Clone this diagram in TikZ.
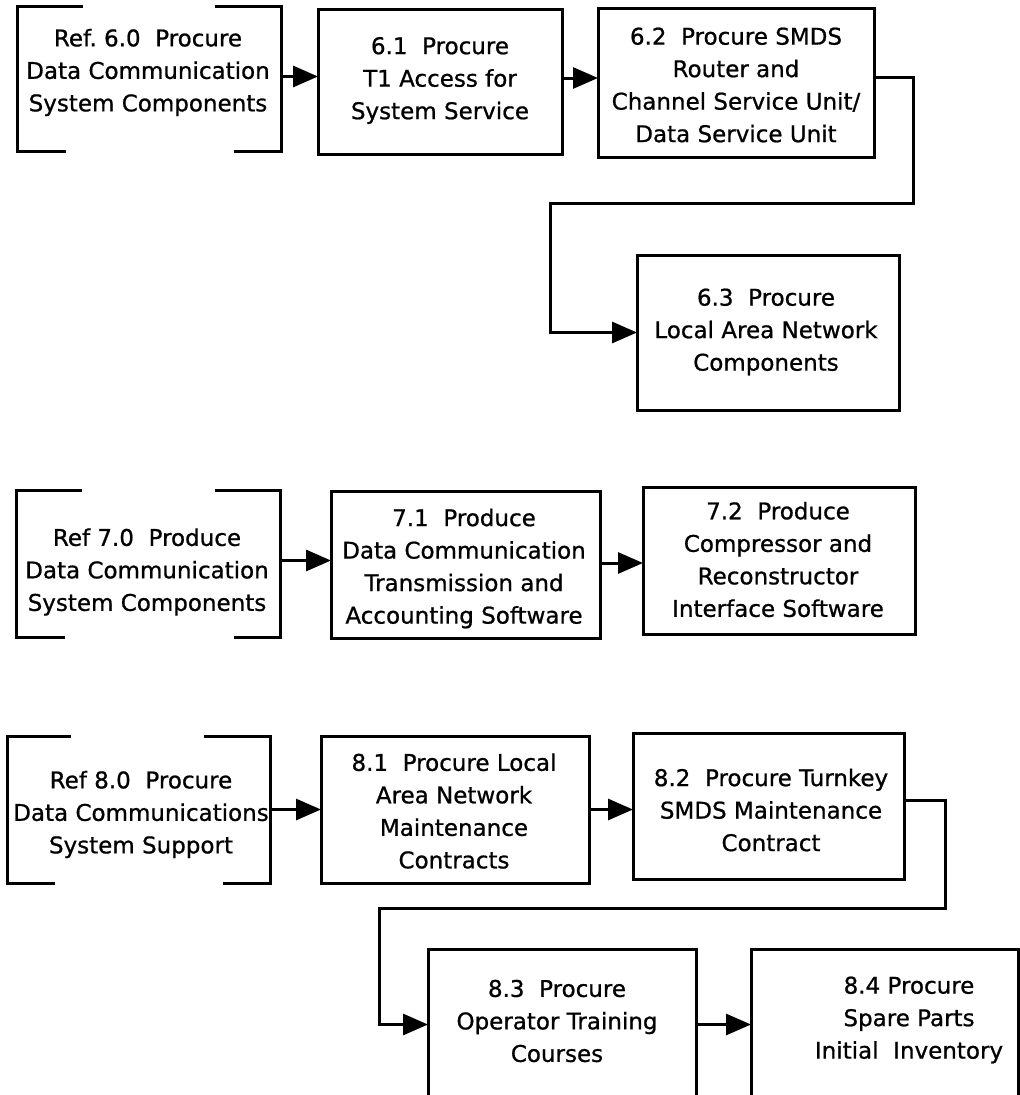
\documentclass[tikz,border=0pt]{standalone}
\usepackage{fontspec}
\setmainfont{DejaVu Sans}[FakeBold=0.8]
\usetikzlibrary{arrows.meta}
\begin{document}
\begin{tikzpicture}[x=1pt,y=-1pt,
  boxline/.style={draw=black, line width=3pt, inner sep=0pt, outer sep=0pt},
  hidden/.style={inner sep=0pt, outer sep=0pt},
  txt/.style={align=center, inner sep=0pt, font=\fontsize{23}{32.5}\selectfont},
  arr/.style={line width=3pt, -{Triangle[length=25pt,width=21pt]}},
  brk/.style={line width=3pt}]
\useasboundingbox (0,0) rectangle (1020,1095);
\fill[white] (0,0) rectangle (1020,1095);

% ---------- Row 6 ----------
\node[hidden, minimum width=264pt, minimum height=145pt] (r6) at (149,78.5) {};
\draw[brk] ([xshift=66pt]r6.north west) -- (r6.north west) -- (r6.south west) -- ([xshift=49pt]r6.south west);
\draw[brk] ([xshift=-66pt]r6.north east) -- (r6.north east) -- (r6.south east) -- ([xshift=-47pt]r6.south east);
\node[txt] (t6) at (148,72.5) {Ref.\ 6.0\ \ Procure\\Data Communication\\System Components};

\node[boxline, minimum width=244pt, minimum height=145pt] (b61) at (440,81.5) {};
\node[txt] (t61) at (440,80.5) {6.1\ \ Procure\\T1 Access for\\System Service};

\node[boxline, minimum width=276pt, minimum height=149pt] (b62) at (736,82.5) {};
\node[txt] (t62) at (736,85) {6.2\ \ Procure SMDS\\Router and\\Channel Service Unit/\\Data Service Unit};

\node[boxline, minimum width=262pt, minimum height=155pt] (b63) at (768,332.5) {};
\node[txt] (t63) at (766,332) {6.3\ \ Procure\\Local Area Network\\Components};

\coordinate (k1a) at (913,203);
\coordinate (k1b) at (550,203);

\draw[arr] ([yshift=2pt]r6.east) -- ([yshift=2pt]r6.east -| b61.west);
\draw[arr] ([yshift=3.5pt]b61.east) -- ([yshift=3.5pt]b61.east -| b62.west);
\draw[arr] ([yshift=5.5pt]b62.east) -| (k1a) -- (k1b) |- (b63.west);

% ---------- Row 7 ----------
\node[hidden, minimum width=264pt, minimum height=147pt] (r7) at (148,563.5) {};
\draw[brk] ([xshift=66pt]r7.north west) -- (r7.north west) -- (r7.south west) -- ([xshift=49pt]r7.south west);
\draw[brk] ([xshift=-65pt]r7.north east) -- (r7.north east) -- (r7.south east) -- ([xshift=-46pt]r7.south east);
\node[txt] (t7) at (147,572) {Ref 7.0\ \ Produce\\Data Communication\\System Components};

\node[boxline, minimum width=269pt, minimum height=147pt] (b71) at (465.5,564.5) {};
\node[txt] (t71) at (464,568.5) {7.1\ \ Produce\\Data Communication\\Transmission and\\Accounting Software};

\node[boxline, minimum width=272pt, minimum height=147pt] (b72) at (779,560.5) {};
\node[txt] (t72) at (778,559.5) {7.2\ \ Produce\\Compressor and\\Reconstructor\\Interface Software};

\draw[arr] ([yshift=3pt]r7.east) -- ([yshift=3pt]r7.east -| b71.west);
\draw[arr] ([yshift=1.5pt]b71.east) -- ([yshift=1.5pt]b71.east -| b72.west);

% ---------- Row 8 ----------
\node[hidden, minimum width=263pt, minimum height=147pt] (r8) at (138.5,809.5) {};
\draw[brk] ([xshift=64pt]r8.north west) -- (r8.north west) -- (r8.south west) -- ([xshift=48pt]r8.south west);
\draw[brk] ([xshift=-66pt]r8.north east) -- (r8.north east) -- (r8.south east) -- ([xshift=-47pt]r8.south east);
\node[txt] (t8) at (141,814.5) {Ref 8.0\ \ Procure\\Data Communications\\System Support};

\node[boxline, minimum width=268pt, minimum height=147pt] (b81) at (455,809.5) {};
\node[txt] (t81) at (454,811) {8.1\ \ Procure Local\\Area Network\\Maintenance\\Contracts};

\node[boxline, minimum width=271pt, minimum height=146pt] (b82) at (768.5,806) {};
\node[txt] (t82) at (771,810) {8.2\ \ Procure Turnkey\\SMDS Maintenance\\Contract};

\node[boxline, minimum width=268pt, minimum height=151pt] (b83) at (562,1024.5) {};
\node[txt] (t83) at (557,1021) {8.3\ \ Procure\\Operator Training\\Courses};

\node[boxline, minimum width=267pt, minimum height=151pt] (b84) at (884.5,1024.5) {};
\node[txt] (t84) at (909,1020) {8.4 Procure\\Spare Parts\\Initial\ \ Inventory};

\coordinate (k2a) at (945,908);
\coordinate (k2b) at (379,908);

\draw[arr] (r8.east) -- (r8.east -| b81.west);
\draw[arr] (b81.east) -- (b81.east -| b82.west);
\draw[arr] ([yshift=6pt]b82.east) -| (k2a) -- (k2b) |- (b83.west);
\draw[arr] (b83.east) -- (b83.east -| b84.west);
\end{tikzpicture}
\end{document}
